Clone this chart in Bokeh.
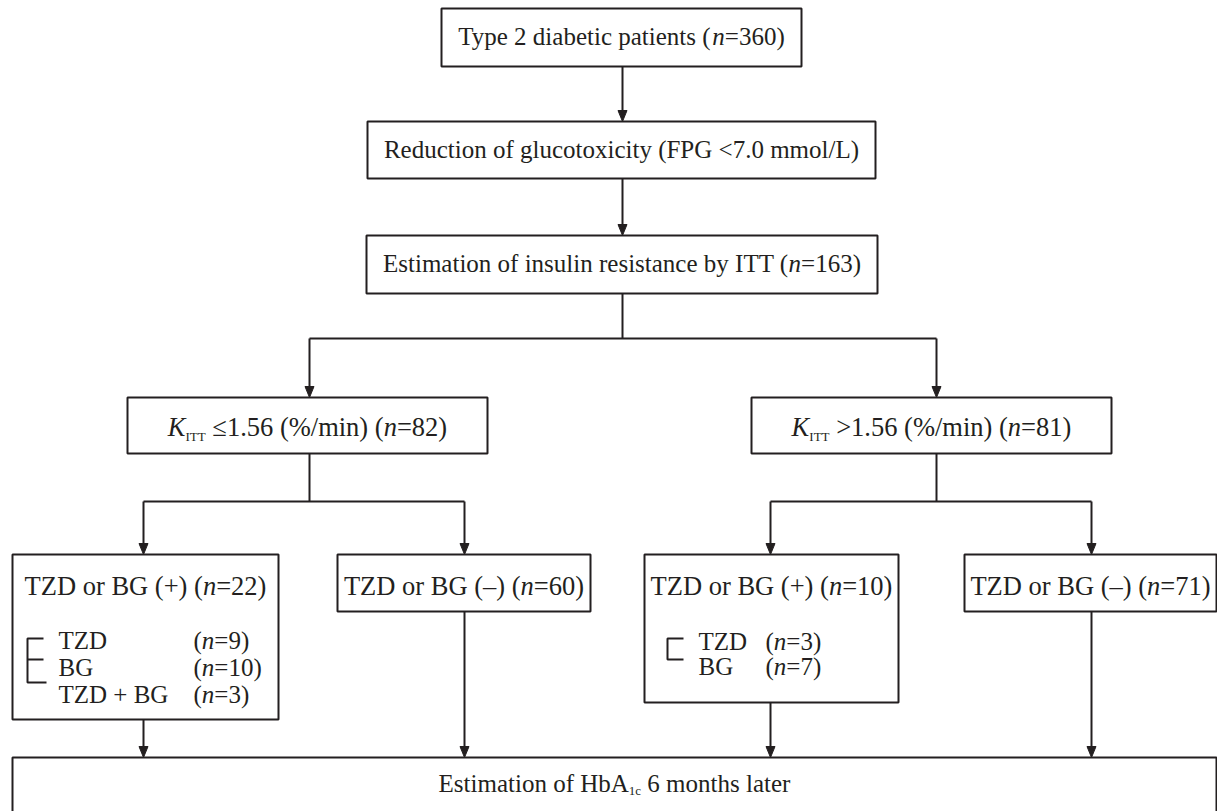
from bokeh.plotting import figure
from bokeh.models import ColumnDataSource, Range1d
from bokeh.core.properties import value
from bokeh.embed import file_html
from bokeh.resources import INLINE

# ---------------- data (texts and counts of the flow chart) ----------------
STEP_TEXT = ["Type 2 diabetic patients",
             "Reduction of glucotoxicity (FPG <7.0 mmol/L)",
             "Estimation of insulin resistance by ITT"]
STEP_N = [360, None, 163]
KITT_OPS = ["≤", ">"]
KITT_CUTOFF = "1.56"
KITT_UNIT = "(%/min)"
KITT_N = [82, 81]
ARM_SIGNS = ["+", "–", "+", "–"]
ARM_N = [22, 60, 10, 71]
LEFT_SUB_LABELS = ["TZD", "BG", "TZD + BG"]
LEFT_SUB_N = [9, 10, 3]
RIGHT_SUB_LABELS = ["TZD", "BG"]
RIGHT_SUB_N = [3, 7]
OUTCOME_PRE = "Estimation of HbA"
OUTCOME_SUB = "1c"
OUTCOME_POST = " 6 months later"

# ---------------- layout / style ----------------
W, H = 1217, 811
X0, X1 = 0, 1217
Y0, Y1 = 0, 811
FONT = "Liberation Serif"
FS_STEP = 25
FS_ARM = 26.5
FS_SUB = 25
SFS = 13
INK = "#231f20"
LW = 2
DY = -8  # baseline correction

# Times / Liberation Serif advance widths (per 1000 em)
MET = {' ': 250, '(': 333, ')': 333, '+': 564, ',': 250, '-': 333, '.': 250, '/': 278,
       '<': 564, '=': 564, '>': 564, '%': 833, '–': 500, '≤': 549, '−': 564,
       'A': 722, 'B': 667, 'C': 667, 'D': 722, 'E': 611, 'F': 556, 'G': 722, 'H': 722,
       'I': 333, 'J': 389, 'K': 722, 'L': 611, 'M': 889, 'N': 722, 'O': 722, 'P': 556,
       'Q': 722, 'R': 667, 'S': 556, 'T': 611, 'U': 722, 'V': 722, 'W': 944, 'X': 722,
       'Y': 722, 'Z': 611,
       'a': 444, 'b': 500, 'c': 444, 'd': 500, 'e': 444, 'f': 333, 'g': 500, 'h': 500,
       'i': 278, 'j': 278, 'k': 500, 'l': 278, 'm': 778, 'n': 500, 'o': 500, 'p': 500,
       'q': 500, 'r': 333, 's': 389, 't': 278, 'u': 500, 'v': 500, 'w': 722, 'x': 500,
       'y': 500, 'z': 444}
for d in "0123456789":
    MET[d] = 500
MET_I = {'n': 500, 'K': 667}


def run_width(text, style, fs):
    if style == 'i':
        em = sum(MET_I.get(c, MET.get(c, 500)) for c in text) / 1000.0
        return em * fs
    size = SFS if style == 's' else fs
    em = sum(MET.get(c, 500) for c in text) / 1000.0
    return em * size


buckets = {}


def add(style, fs, x, y, text):
    key = (style, SFS if style == 's' else fs)
    b = buckets.setdefault(key, dict(x=[], y=[], text=[]))
    b['x'].append(x)
    b['y'].append(y)
    b['text'].append(text)


def place(runs, y, fs, cx=None, left=None, sub_dy=9):
    total = sum(run_width(t, s, fs) for t, s in runs)
    x = cx - total / 2.0 if cx is not None else left
    for t, s in runs:
        lead = len(t) - len(t.lstrip(" "))
        add(s, fs, x + run_width(" " * lead, s, fs), y + DY + (sub_dy if s == 's' else 0),
            t.strip(" "))
        x += run_width(t, s, fs)


def n_runs(prefix, n):
    return [(prefix + "(", 'r'), ("n", 'i'), ("=%d)" % n, 'r')]


# box geometry (page pixels)
STEP_BOX = [(441, 8, 801, 66), (367, 121, 875, 178), (366, 235, 877, 293)]
STEP_BASE = [44, 157, 271]
KITT_BOX = [(127, 397, 487, 453), (751, 397, 1111, 453)]
KITT_BASE = 434
ARM_BOX = [(12, 554, 278, 719), (337, 554, 590, 611), (644, 554, 898, 702), (964, 554, 1216, 611)]
ARM_BASE = 593
OUT_BOX = (12, 757, 1216, 840)
OUT_BASE = 791
LEFT_SUB_BASE = [648, 675, 702]
RIGHT_SUB_BASE = [649, 674]
LEFT_SUB_X = (58, 193)
RIGHT_SUB_X = (698, 765)

p = figure(width=W, height=H, output_backend="svg", toolbar_location=None,
           x_range=Range1d(X0, X1), y_range=Range1d(Y1, Y0),
           x_axis_type=None, y_axis_type=None, min_border=0)
p.grid.visible = False
p.outline_line_color = None
p.background_fill_color = "white"
p.border_fill_color = "white"

# boxes
boxes = STEP_BOX + KITT_BOX + ARM_BOX + [OUT_BOX]
p.quad(left=[b[0] for b in boxes], right=[b[2] for b in boxes],
       top=[b[1] for b in boxes], bottom=[b[3] for b in boxes],
       fill_color="white", line_color=INK, line_width=LW)

# connectors
CX = 622
arrows = [(CX, 66, 121), (CX, 178, 235), (309, 338, 397), (936, 338, 397),
          (143, 501, 554), (464, 501, 554), (770, 501, 554), (1091, 501, 554),
          (143, 719, 757), (464, 611, 757), (770, 702, 757), (1091, 611, 757)]
plain = [((CX, CX), (293, 338)), ((309, 936), (338, 338)),
         ((309, 309), (453, 501)), ((143, 464), (501, 501)),
         ((936, 936), (453, 501)), ((770, 1091), (501, 501)),
         # brackets
         ((43, 27, 27, 46), (638, 638, 682, 682)), ((27, 43), (659, 659)),
         ((683, 667, 667, 683), (638, 638, 659, 659))]
xs = [list(a) for a, b in plain] + [[x, x] for x, y0, y1 in arrows]
ys = [list(b) for a, b in plain] + [[y0, y1 - 6] for x, y0, y1 in arrows]
p.multi_line(xs=xs, ys=ys, line_color=INK, line_width=LW)
p.patches(xs=[[x - 4.5, x + 4.5, x] for x, y0, y1 in arrows],
          ys=[[y1 - 11, y1 - 11, y1] for x, y0, y1 in arrows],
          fill_color=INK, line_color=INK, line_width=1)

# texts
for (b, base, txt, n) in zip(STEP_BOX, STEP_BASE, STEP_TEXT, STEP_N):
    cx = (b[0] + b[2]) / 2.0
    runs = [(txt, 'r')] if n is None else n_runs(txt + " ", n)
    place(runs, base, FS_STEP, cx=cx)

for b, op, n in zip(KITT_BOX, KITT_OPS, KITT_N):
    cx = (b[0] + b[2]) / 2.0
    runs = [("K", 'i'), ("ITT", 's')] + n_runs(" %s%s %s " % (op, KITT_CUTOFF, KITT_UNIT), n)
    place(runs, KITT_BASE, FS_ARM, cx=cx, sub_dy=10)

for b, sg, n in zip(ARM_BOX, ARM_SIGNS, ARM_N):
    cx = (b[0] + b[2]) / 2.0
    place(n_runs("TZD or BG (%s) " % sg, n), ARM_BASE, FS_ARM, cx=cx)

for lab, n, base in zip(LEFT_SUB_LABELS, LEFT_SUB_N, LEFT_SUB_BASE):
    place([(lab, 'r')], base, FS_SUB, left=LEFT_SUB_X[0])
    place(n_runs("", n), base, FS_SUB, left=LEFT_SUB_X[1])
for lab, n, base in zip(RIGHT_SUB_LABELS, RIGHT_SUB_N, RIGHT_SUB_BASE):
    place([(lab, 'r')], base, FS_SUB, left=RIGHT_SUB_X[0])
    place(n_runs("", n), base, FS_SUB, left=RIGHT_SUB_X[1])

place([(OUTCOME_PRE, 'r'), (OUTCOME_SUB, 's'), (OUTCOME_POST, 'r')], OUT_BASE, FS_STEP,
      cx=(OUT_BOX[0] + OUT_BOX[2]) / 2.0, sub_dy=7)

for (style, size), data in buckets.items():
    src = ColumnDataSource(data)
    p.text(x='x', y='y', text='text', source=src, text_font=value(FONT),
           text_font_size=value("%gpx" % size),
           text_font_style="italic" if style == 'i' else "normal",
           text_align="left", text_baseline="alphabetic", text_color=INK)

open("out.html", "w").write(file_html(p, INLINE))
